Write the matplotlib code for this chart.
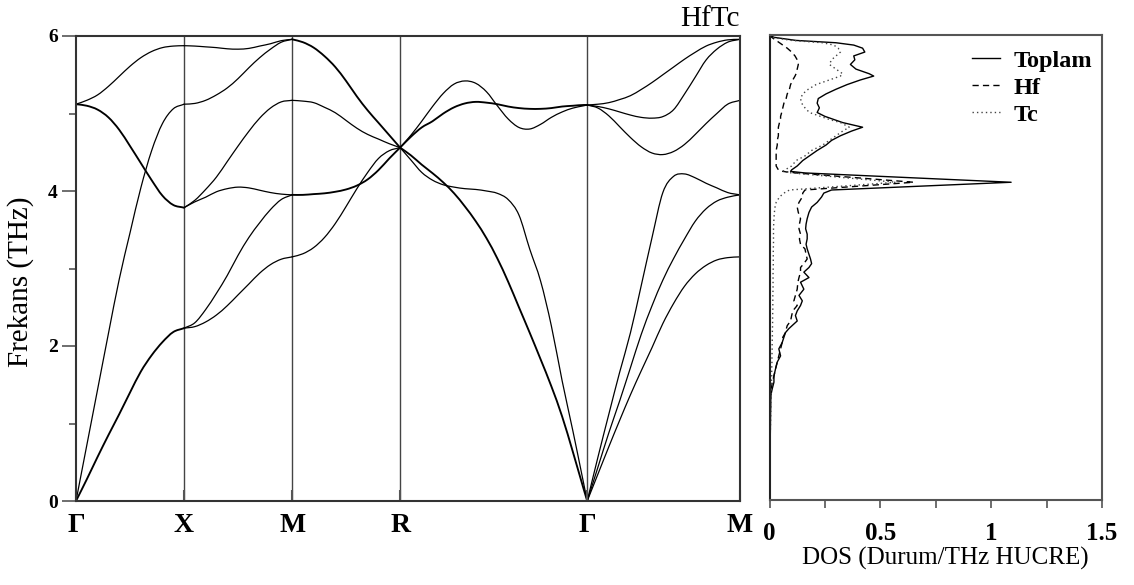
import numpy as np
import matplotlib
matplotlib.use("Agg")
import matplotlib.pyplot as plt
from matplotlib.ticker import MultipleLocator, FixedLocator
from matplotlib.path import Path
from matplotlib.patches import PathPatch

plt.rcParams['font.family'] = ['Liberation Serif', 'DejaVu Serif']

# ---------------- data ----------------
kpoint_labels = ['Γ', 'X', 'M', 'R', 'Γ', 'M']
segment_lengths = [1.0, 1.0, 1.0, np.sqrt(3), np.sqrt(2)]

# sample positions along each segment (in units of the Γ-X length)
k_GX = [0, .1, .2, .3, .4, .5, .6, .7, .8, .9, 1.0]
k_XM = [0, .1, .2, .3, .4, .5, .6, .7, .8, .9, 1.0]
k_MR = [0, .1, .2, .3, .4, .5, .6, .7, .8, .9, 1.0]
k_RG = [0, .1, .2, .3, .4, .5, .6, .7, .8, .9, 1.0, 1.1, 1.2, 1.3, 1.4, 1.5, 1.6, 1.7, np.sqrt(3)]
k_GM = [0, .1, .2, .3, .4, .5, .6, .7, .8, .9, 1.0, 1.1, 1.2, 1.3, np.sqrt(2)]

# phonon branches (THz) on each segment
GX_bands = [
    [5.12, 5.17, 5.24, 5.35, 5.48, 5.61, 5.72, 5.80, 5.85, 5.87, 5.875],
    [5.12, 5.10, 5.05, 4.95, 4.79, 4.58, 4.36, 4.14, 3.94, 3.82, 3.785],
    [0.00, 0.72, 1.44, 2.16, 2.86, 3.46, 4.04, 4.52, 4.87, 5.06, 5.12],
    [0.00, 0.28, 0.57, 0.85, 1.12, 1.40, 1.67, 1.88, 2.05, 2.18, 2.23],
]
GX_degenerate = [False, True, False, True]

XM_bands = [
    [5.875, 5.87, 5.86, 5.85, 5.835, 5.83, 5.84, 5.87, 5.90, 5.94, 5.957],
    [5.12, 5.13, 5.17, 5.24, 5.33, 5.45, 5.59, 5.72, 5.83, 5.92, 5.957],
    [3.785, 3.88, 4.02, 4.18, 4.38, 4.58, 4.77, 4.94, 5.07, 5.15, 5.17],
    [3.785, 3.86, 3.92, 3.99, 4.03, 4.05, 4.04, 4.01, 3.98, 3.96, 3.95],
    [2.23, 2.30, 2.47, 2.68, 2.91, 3.17, 3.40, 3.59, 3.76, 3.89, 3.95],
    [2.23, 2.25, 2.31, 2.40, 2.52, 2.66, 2.80, 2.94, 3.05, 3.12, 3.15],
]
XM_degenerate = [False] * 6

MR_bands = [
    [5.957, 5.92, 5.85, 5.74, 5.60, 5.42, 5.22, 5.04, 4.88, 4.72, 4.56],
    [5.17, 5.16, 5.14, 5.08, 5.01, 4.91, 4.81, 4.73, 4.67, 4.61, 4.56],
    [3.95, 3.95, 3.96, 3.97, 3.99, 4.02, 4.07, 4.15, 4.27, 4.42, 4.56],
    [3.15, 3.19, 3.27, 3.40, 3.58, 3.80, 4.03, 4.24, 4.42, 4.52, 4.56],
]
MR_degenerate = [True, False, True, False]

RG_bands = [
    [4.56, 4.72, 4.90, 5.09, 5.26, 5.38, 5.42, 5.39, 5.28, 5.10, 4.93, 4.82, 4.80, 4.86, 4.95, 5.02, 5.07, 5.10, 5.11],
    [4.56, 4.70, 4.82, 4.90, 5.00, 5.08, 5.13, 5.15, 5.14, 5.12, 5.09, 5.07, 5.06, 5.06, 5.07, 5.09, 5.10, 5.11, 5.11],
    [4.56, 4.40, 4.24, 4.14, 4.08, 4.05, 4.03, 4.02, 4.00, 3.97, 3.89, 3.69, 3.25, 2.84, 2.26, 1.55, 0.90, 0.22, 0.00],
    [4.56, 4.46, 4.34, 4.23, 4.11, 3.97, 3.80, 3.61, 3.39, 3.13, 2.83, 2.50, 2.17, 1.83, 1.48, 1.09, 0.63, 0.15, 0.00],
]
RG_degenerate = [False, True, False, True]

GM_bands = [
    [5.11, 5.12, 5.14, 5.18, 5.23, 5.31, 5.40, 5.50, 5.60, 5.70, 5.79, 5.87, 5.92, 5.95, 5.957],
    [5.11, 5.09, 5.06, 5.02, 4.98, 4.95, 4.94, 4.96, 5.05, 5.25, 5.47, 5.69, 5.83, 5.92, 5.957],
    [5.11, 5.07, 4.97, 4.83, 4.69, 4.57, 4.49, 4.47, 4.51, 4.60, 4.73, 4.87, 5.00, 5.12, 5.17],
    [0.00, 0.57, 1.12, 1.66, 2.17, 2.78, 3.40, 3.98, 4.19, 4.22, 4.17, 4.10, 4.04, 3.98, 3.95],
    [0.00, 0.44, 0.88, 1.29, 1.72, 2.15, 2.52, 2.85, 3.13, 3.38, 3.61, 3.77, 3.87, 3.92, 3.95],
    [0.00, 0.35, 0.70, 1.04, 1.37, 1.68, 1.98, 2.29, 2.55, 2.77, 2.93, 3.04, 3.11, 3.14, 3.15],
]
GM_degenerate = [False] * 6

# phonon density of states
dos_freq = [6.00, 5.97, 5.93, 5.90, 5.87, 5.83, 5.78, 5.73, 5.68, 5.62, 5.56, 5.50, 5.47, 5.42,
            5.36, 5.30, 5.24, 5.18, 5.12, 5.06, 5.00, 4.95, 4.91, 4.87, 4.81, 4.76, 4.70, 4.64,
            4.58, 4.51, 4.44, 4.38, 4.31, 4.26, 4.24, 4.22, 4.10, 4.00, 3.96, 3.91, 3.84, 3.78,
            3.71, 3.63, 3.56, 3.50, 3.43, 3.37, 3.30, 3.24, 3.17, 3.11, 3.05, 3.00, 2.94, 2.87,
            2.81, 2.72, 2.64, 2.57, 2.51, 2.44, 2.38, 2.31, 2.25, 2.21, 2.16, 2.10, 2.03, 1.95,
            1.86, 1.78, 1.69, 1.60, 1.52, 1.43, 1.35, 1.17, 0.92, 0.57, 0.00]
dos_total = [0.00, 0.02, 0.12, 0.30, 0.38, 0.42, 0.43, 0.38, 0.385, 0.365, 0.39, 0.45, 0.47, 0.41,
             0.35, 0.30, 0.255, 0.22, 0.215, 0.225, 0.215, 0.25, 0.29, 0.33, 0.42, 0.37, 0.32, 0.28,
             0.255, 0.215, 0.18, 0.15, 0.125, 0.10, 0.095, 0.16, 1.09, 0.28, 0.245, 0.235, 0.215, 0.19,
             0.178, 0.17, 0.165, 0.163, 0.17, 0.17, 0.165, 0.17, 0.178, 0.185, 0.19, 0.178, 0.155, 0.178,
             0.14, 0.155, 0.133, 0.148, 0.14, 0.125, 0.117, 0.125, 0.102, 0.087, 0.072, 0.065, 0.057, 0.042,
             0.05, 0.035, 0.027, 0.02, 0.02, 0.012, 0.006, 0.005, 0.004, 0.002, 0.00]
dos_hf = [0.00, 0.01, 0.03, 0.045, 0.06, 0.08, 0.10, 0.115, 0.125, 0.13, 0.125, 0.12, 0.115, 0.105,
          0.095, 0.09, 0.08, 0.075, 0.065, 0.06, 0.055, 0.05, 0.05, 0.045, 0.04, 0.04, 0.04, 0.035,
          0.035, 0.03, 0.03, 0.03, 0.03, 0.04, 0.06, 0.12, 0.65, 0.16, 0.15, 0.148, 0.133, 0.125,
          0.13, 0.14, 0.135, 0.133, 0.14, 0.135, 0.14, 0.16, 0.165, 0.17, 0.155, 0.14, 0.14, 0.133,
          0.128, 0.125, 0.117, 0.11, 0.125, 0.105, 0.10, 0.095, 0.08, 0.076, 0.072, 0.06, 0.057, 0.05,
          0.042, 0.035, 0.027, 0.02, 0.012, 0.008, 0.005, 0.004, 0.003, 0.002, 0.00]
dos_tc = [0.00, 0.01, 0.10, 0.24, 0.29, 0.31, 0.32, 0.30, 0.28, 0.27, 0.30, 0.33, 0.32, 0.27,
          0.21, 0.175, 0.15, 0.14, 0.145, 0.16, 0.18, 0.23, 0.27, 0.32, 0.36, 0.33, 0.30, 0.27,
          0.24, 0.19, 0.16, 0.12, 0.10, 0.07, 0.06, 0.10, 0.57, 0.09, 0.065, 0.045, 0.03, 0.025,
          0.022, 0.02, 0.019, 0.018, 0.018, 0.018, 0.018, 0.017, 0.017, 0.017, 0.017, 0.017, 0.016, 0.016,
          0.016, 0.016, 0.015, 0.015, 0.015, 0.015, 0.014, 0.014, 0.014, 0.013, 0.013, 0.013, 0.012, 0.012,
          0.011, 0.011, 0.010, 0.010, 0.009, 0.008, 0.007, 0.006, 0.004, 0.002, 0.00]
legend_labels = ['Toplam', 'Hf', 'Tc']


def smooth_path(x, y):
    """Cubic Bezier path through every (x, y) sample (Hermite tangents)."""
    x = np.asarray(x, float)
    y = np.asarray(y, float)
    h = np.diff(x)
    s = np.diff(y) / h
    m = np.empty_like(y)
    m[0], m[-1] = s[0], s[-1]
    m[1:-1] = (s[1:] * h[:-1] + s[:-1] * h[1:]) / (h[:-1] + h[1:])
    verts = [(x[0], y[0])]
    codes = [Path.MOVETO]
    for i in range(len(x) - 1):
        verts += [(x[i] + h[i] / 3, y[i] + m[i] * h[i] / 3),
                  (x[i + 1] - h[i] / 3, y[i + 1] - m[i + 1] * h[i] / 3),
                  (x[i + 1], y[i + 1])]
        codes += [Path.CURVE4] * 3
    return Path(verts, codes)


# ---------------- figure ----------------
W, H = 1134, 585
fig = plt.figure(figsize=(W / 100, H / 100), dpi=100)
ax1 = fig.add_axes([76 / W, 84 / H, 664 / W, 465 / H])
ax2 = fig.add_axes([769.5 / W, 85 / H, 332.5 / W, 465 / H])

kpos = np.concatenate([[0], np.cumsum(segment_lengths)])
segments = [(k_GX, GX_bands, GX_degenerate), (k_XM, XM_bands, XM_degenerate),
            (k_MR, MR_bands, MR_degenerate), (k_RG, RG_bands, RG_degenerate),
            (k_GM, GM_bands, GM_degenerate)]
for i, (ks, bands, deg) in enumerate(segments):
    x = kpos[i] + np.asarray(ks)
    for b, d in zip(bands, deg):
        ax1.add_patch(PathPatch(smooth_path(x, b), fill=False, edgecolor='black',
                                lw=1.35 if d else 0.9, capstyle='round', joinstyle='round'))

for kp in kpos[1:-1]:
    ax1.axvline(kp, color='#444444', lw=1.0, zorder=0)

ax1.set_xlim(kpos[0], kpos[-1])
ax1.set_ylim(0, 6)
ax1.set_xticks(kpos)
ax1.set_xticklabels(kpoint_labels, fontsize=20, fontweight='bold')
ax1.tick_params(axis='x', direction='in', length=8, width=1.5, color='#555555', pad=9)
ax1.yaxis.set_major_locator(FixedLocator([0, 2, 4, 6]))
ax1.yaxis.set_minor_locator(FixedLocator([1, 3, 5]))
ax1.tick_params(axis='y', which='major', direction='out', length=10, width=1.2,
                color='#555555', labelsize=14, pad=3)
ax1.tick_params(axis='y', which='minor', direction='out', length=5, width=1.2, color='#555555')
for lab in ax1.get_yticklabels():
    lab.set_fontweight('bold')
for sp in ax1.spines.values():
    sp.set_linewidth(1.5)
    sp.set_color('#333333')

# DOS panel
ln1, = ax2.plot(dos_total, dos_freq, color='black', lw=1.0)
ln2, = ax2.plot(dos_hf, dos_freq, color='black', lw=1.0, linestyle=(0, (4.5, 3)))
ln3, = ax2.plot(dos_tc, dos_freq, color='#444444', lw=1.0, linestyle=(0, (1, 2.2)))
ax2.set_xlim(0, 1.5)
ax2.set_ylim(0, 6)
ax2.set_yticks([])
ax2.xaxis.set_major_locator(FixedLocator([0, 0.5, 1.0, 1.5]))
ax2.xaxis.set_minor_locator(MultipleLocator(0.25))
ax2.set_xticklabels(['0', '0.5', '1', '1.5'])
ax2.tick_params(axis='x', which='major', direction='out', length=6, width=1.2,
                color='#555555', labelsize=18, pad=10)
ax2.tick_params(axis='x', which='minor', direction='out', length=6, width=1.2, color='#555555')
for lab in ax2.get_xticklabels():
    lab.set_fontweight('bold')
for sp in ax2.spines.values():
    sp.set_linewidth(1.5)
    sp.set_color('#555555')
ax2.spines['left'].set_color('#222222')

leg = ax2.legend([ln1, ln2, ln3], legend_labels, loc='upper left',
                 bbox_to_anchor=(0.61, 0.968), frameon=False,
                 prop={'size': 17.5, 'weight': 'bold'}, handlelength=1.15,
                 handletextpad=0.55, labelspacing=0.2, borderpad=0, borderaxespad=0)

fig.text(740 / W, 1 - 26 / H, 'HfTc', ha='right', va='baseline', fontsize=21)
fig.text(21 / W, 1 - 282 / H, 'Frekans (THz)', rotation=90, ha='center', va='center', fontsize=21)
fig.text(945 / W, 1 - 558 / H, 'DOS (Durum/THz HUCRE)', ha='center', va='center', fontsize=18)

fig.savefig('out.png', dpi=100)
